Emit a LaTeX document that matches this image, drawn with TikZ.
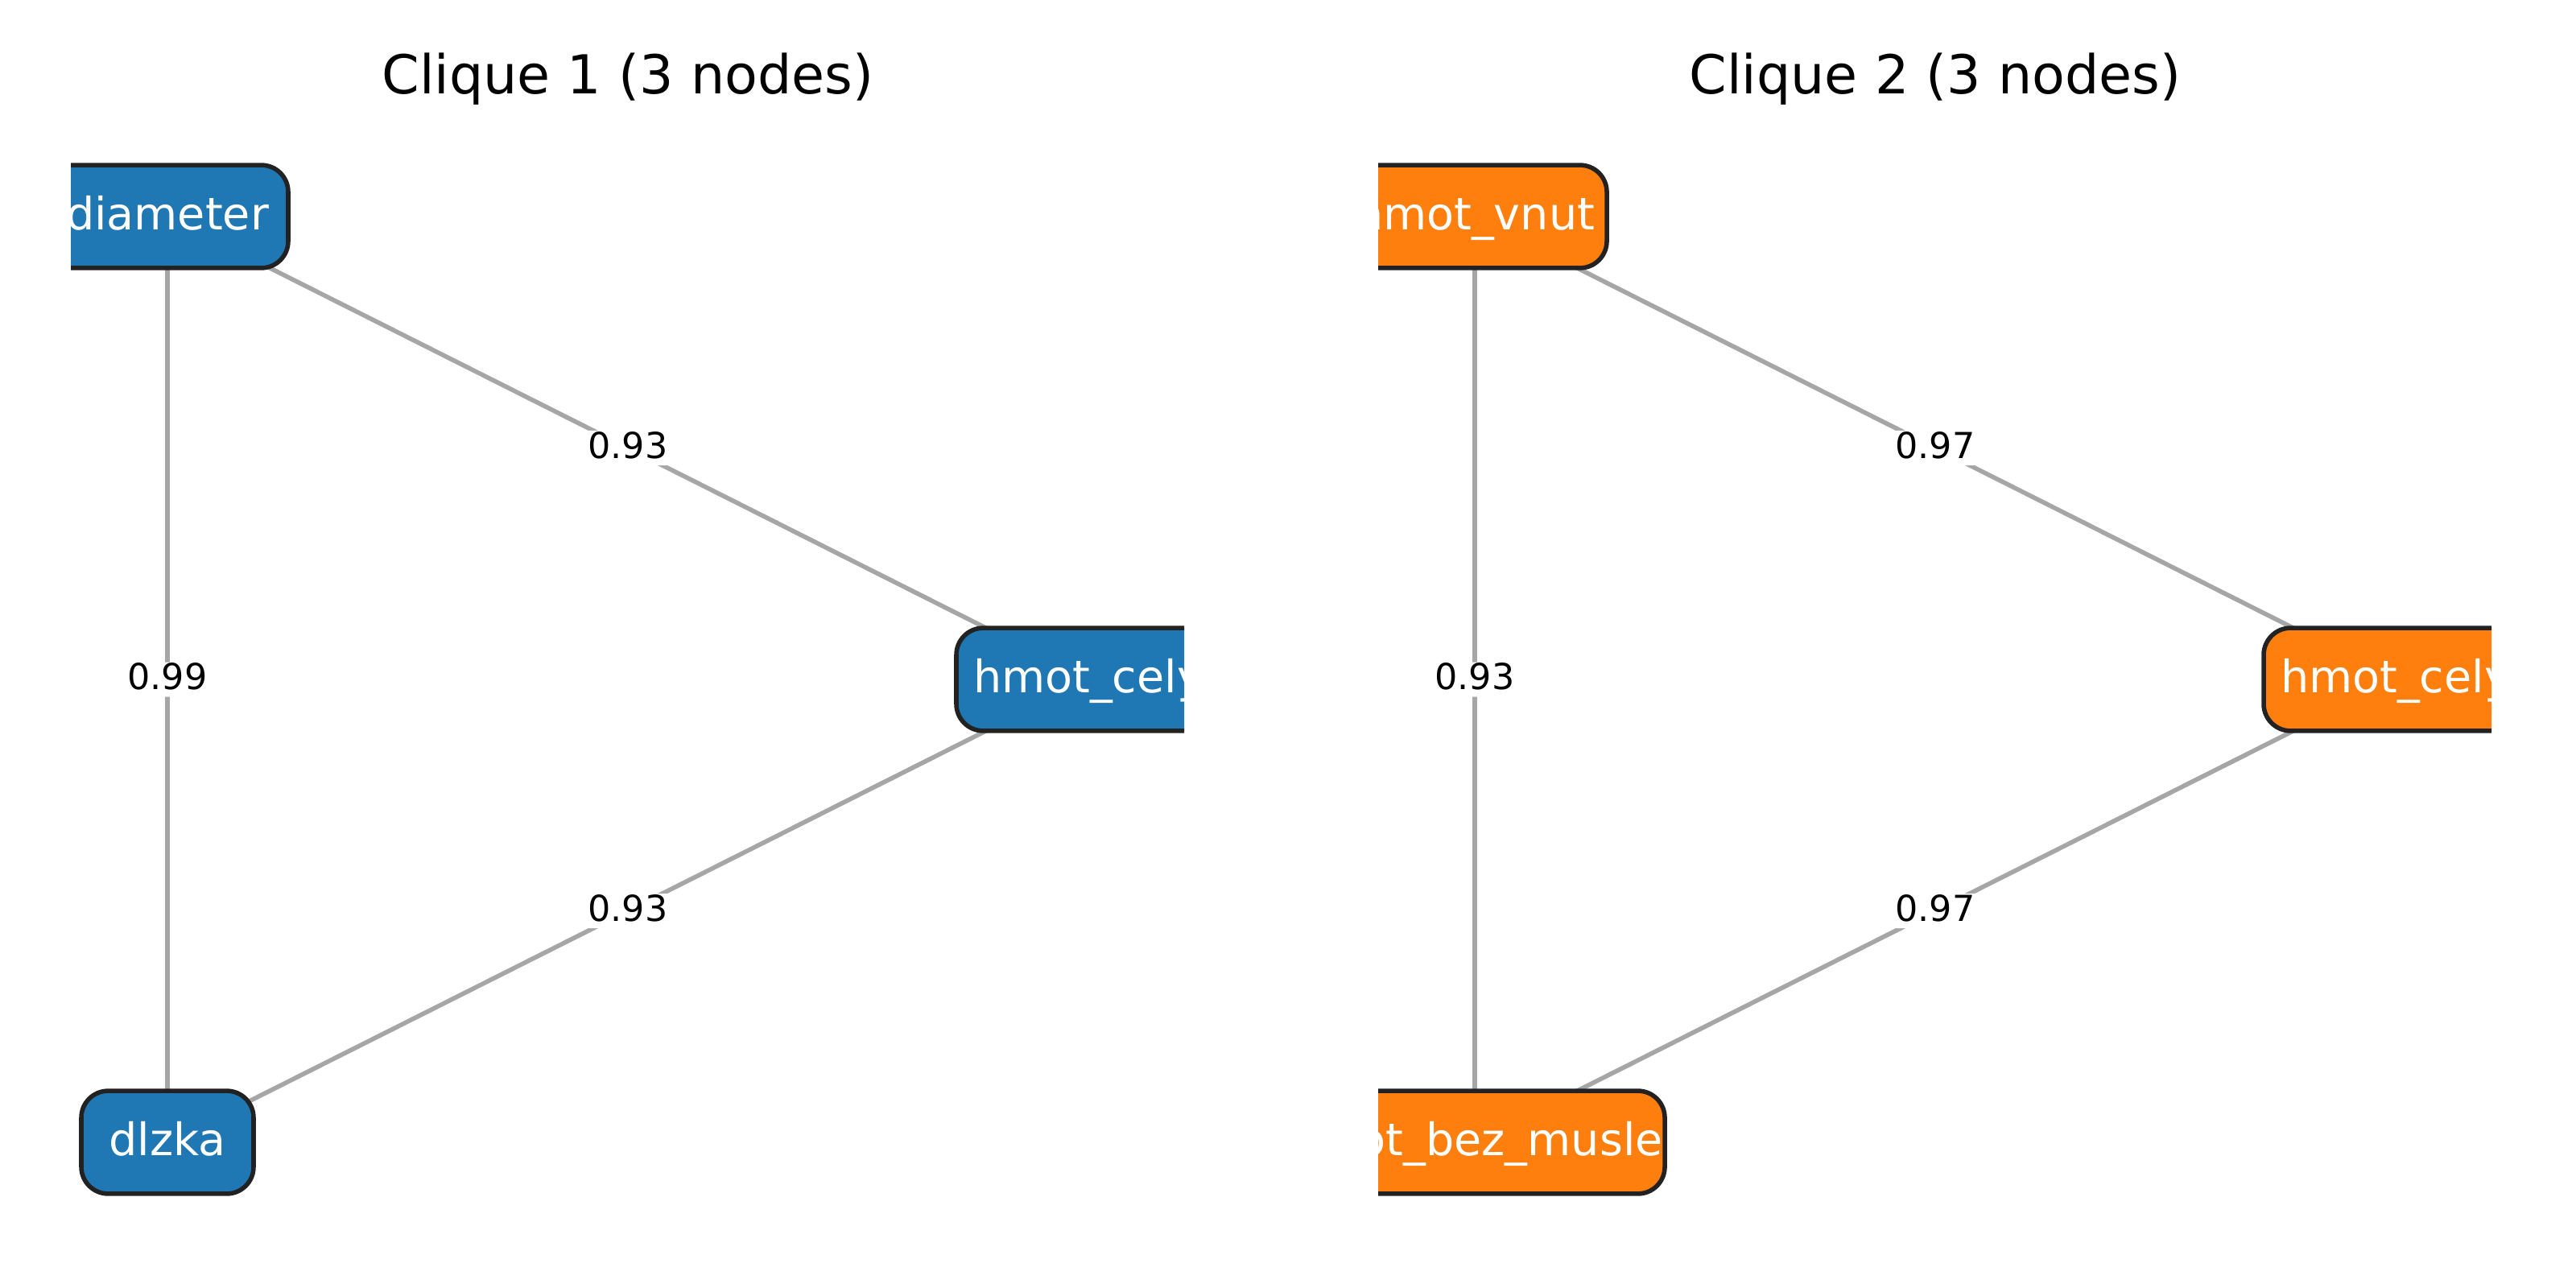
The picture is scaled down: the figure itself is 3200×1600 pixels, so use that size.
\documentclass[tikz,border=0pt]{standalone}
\usepackage{fontspec}
\setmainfont{DejaVu Sans}
\definecolor{nblue}{HTML}{1F77B4}
\definecolor{norange}{HTML}{FF7F0E}
\definecolor{edgegray}{HTML}{A6A6A6}
\definecolor{nedge}{HTML}{222222}
\pgfdeclarelayer{bg}
\pgfsetlayers{bg,main}
\begin{document}
\begin{tikzpicture}[x=0.18pt, y=-0.18pt,
  nbox/.style={draw=nedge, line width=1pt, rounded corners=6pt, text=white,
    font=\fontsize{10}{12}\selectfont, inner xsep=0pt, inner ysep=0pt,
    minimum height=23pt, text height=8.65pt, text depth=2.85pt},
  bluebox/.style={nbox, fill=nblue},
  orangebox/.style={nbox, fill=norange},
  edgeline/.style={draw=edgegray, line width=1pt},
  elabel/.style={fill=white, rounded corners=1.5pt, inner xsep=1.2pt, inner ysep=0pt,
    text height=6.12pt, text depth=1.62pt, text=black,
    font=\fontsize{8}{9.6}\selectfont},
  ttl/.style={font=\fontsize{12}{14.4}\selectfont, anchor=base, inner sep=0pt}]
\useasboundingbox (0,0) rectangle (3200,1600);
\node[ttl] (t1) at (780,117) {Clique 1 (3 nodes)};
\node[ttl] (t2) at (2404,117) {Clique 2 (3 nodes)};
% left panel
\begin{scope}
\clip (88,140) rectangle (1471,1560);
\node[bluebox, minimum width=54pt] (a1) at (208,269) {diameter};
\node[bluebox, minimum width=59.04pt] (b1) at (1352,844) {hmot\_cely};
\node[bluebox, minimum width=38.52pt] (c1) at (208,1419) {dlzka};
\end{scope}
\begin{pgfonlayer}{bg}
\draw[edgeline] (a1.center) -- node[elabel] (l1) {0.93} (b1.center);
\draw[edgeline] (a1.center) -- node[elabel] (l2) {0.99} (c1.center);
\draw[edgeline] (b1.center) -- node[elabel] (l3) {0.93} (c1.center);
\end{pgfonlayer}
% right panel
\begin{scope}
\clip (1712,140) rectangle (3095,1560);
\node[orangebox, minimum width=59.04pt] (a2) at (1832,269) {hmot\_vnut};
\node[orangebox, minimum width=59.04pt] (b2) at (2976,844) {hmot\_cely};
\node[orangebox, minimum width=84.96pt] (c2) at (1832,1419) {hmot\_bez\_musle};
\end{scope}
\begin{pgfonlayer}{bg}
\draw[edgeline] (a2.center) -- node[elabel] (l4) {0.97} (b2.center);
\draw[edgeline] (a2.center) -- node[elabel] (l5) {0.93} (c2.center);
\draw[edgeline] (b2.center) -- node[elabel] (l6) {0.97} (c2.center);
\end{pgfonlayer}
\end{tikzpicture}
\end{document}
